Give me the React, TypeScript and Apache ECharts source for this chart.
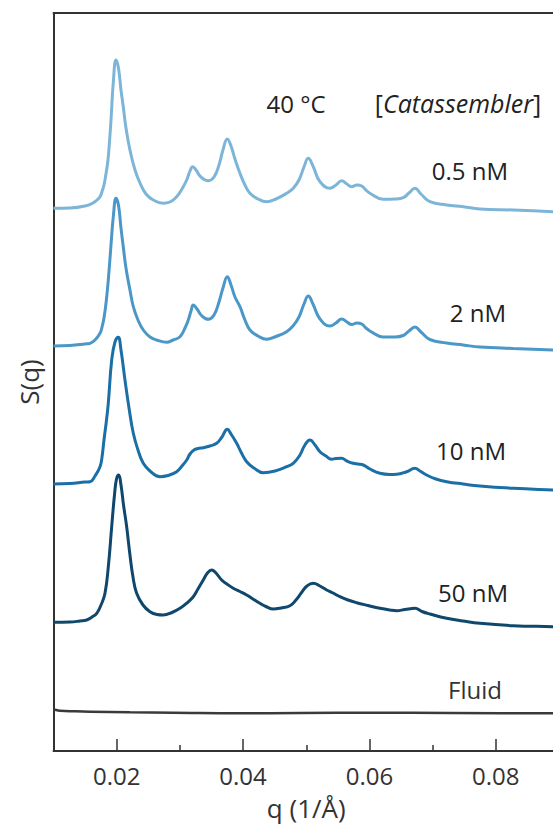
import React, { useEffect, useRef } from "react";
import * as echarts from "echarts";

// q (1/Å) and S(q) (offset, arbitrary units) for each concentration
const q05 = [0.01, 0.01261, 0.01498, 0.01625, 0.0168, 0.01736, 0.01768, 0.01799, 0.0183, 0.01862, 0.01894, 0.0191, 0.01949, 0.01989, 0.02028, 0.02068, 0.02104, 0.02147, 0.0221, 0.0229, 0.02369, 0.02464, 0.02579, 0.02737, 0.02843, 0.02949, 0.03033, 0.03108, 0.0316, 0.03203, 0.03255, 0.03334, 0.03449, 0.0354, 0.03619, 0.03682, 0.0375, 0.03809, 0.03872, 0.03951, 0.0403, 0.04109, 0.04236, 0.04373, 0.04521, 0.0469, 0.04794, 0.04885, 0.04964, 0.05032, 0.05106, 0.05217, 0.05375, 0.0547, 0.0556, 0.05644, 0.05718, 0.05802, 0.05877, 0.05945, 0.06008, 0.06218, 0.06404, 0.06535, 0.06625, 0.0672, 0.06815, 0.06957, 0.07222, 0.07484, 0.07749, 0.08275, 0.089, 0.09];
const s05 = [5.427, 5.43, 5.45, 5.48, 5.505, 5.543, 5.595, 5.66, 5.77, 5.91, 6.16, 6.31, 6.71, 6.91, 6.83, 6.61, 6.443, 6.23, 6.01, 5.81, 5.68, 5.57, 5.51, 5.477, 5.49, 5.543, 5.62, 5.71, 5.8, 5.843, 5.81, 5.74, 5.703, 5.74, 5.86, 6.01, 6.12, 6.05, 5.92, 5.777, 5.66, 5.577, 5.52, 5.493, 5.52, 5.577, 5.627, 5.71, 5.84, 5.927, 5.85, 5.693, 5.627, 5.66, 5.703, 5.67, 5.643, 5.66, 5.65, 5.61, 5.577, 5.517, 5.52, 5.533, 5.58, 5.627, 5.57, 5.493, 5.46, 5.443, 5.42, 5.41, 5.393, 5.39];

const q2 = [0.01, 0.01261, 0.01498, 0.01578, 0.01657, 0.01736, 0.01768, 0.01799, 0.01835, 0.01867, 0.0191, 0.01949, 0.01989, 0.02028, 0.02068, 0.02104, 0.02147, 0.0221, 0.02263, 0.02337, 0.02421, 0.02527, 0.02633, 0.02791, 0.02891, 0.03002, 0.03081, 0.03133, 0.03176, 0.03212, 0.03271, 0.0335, 0.03449, 0.0354, 0.03619, 0.03682, 0.0375, 0.03809, 0.03872, 0.03951, 0.0403, 0.04109, 0.04236, 0.04373, 0.04521, 0.0469, 0.0479, 0.04885, 0.04964, 0.05032, 0.05106, 0.05217, 0.05375, 0.0547, 0.0556, 0.05644, 0.05718, 0.05802, 0.05877, 0.05945, 0.06008, 0.06218, 0.06404, 0.06535, 0.06625, 0.0672, 0.06815, 0.06957, 0.07222, 0.07484, 0.07749, 0.08275, 0.089, 0.09];
const s2 = [4.05, 4.055, 4.07, 4.077, 4.11, 4.177, 4.24, 4.33, 4.5, 4.71, 5.06, 5.36, 5.527, 5.46, 5.23, 5.043, 4.83, 4.61, 4.443, 4.31, 4.21, 4.14, 4.11, 4.087, 4.11, 4.143, 4.23, 4.31, 4.4, 4.46, 4.42, 4.35, 4.317, 4.36, 4.49, 4.63, 4.743, 4.66, 4.54, 4.443, 4.31, 4.21, 4.15, 4.117, 4.145, 4.193, 4.25, 4.34, 4.47, 4.55, 4.47, 4.32, 4.25, 4.28, 4.32, 4.29, 4.265, 4.28, 4.27, 4.23, 4.2, 4.14, 4.14, 4.155, 4.2, 4.24, 4.19, 4.115, 4.08, 4.06, 4.04, 4.025, 4.01, 4.007];

const q10 = [0.01, 0.01261, 0.01498, 0.01578, 0.01657, 0.01736, 0.01768, 0.01799, 0.01835, 0.01867, 0.01921, 0.01973, 0.02025, 0.02068, 0.02131, 0.02195, 0.02263, 0.02337, 0.02421, 0.02527, 0.02685, 0.02812, 0.02949, 0.03033, 0.03108, 0.0316, 0.03223, 0.03286, 0.0337, 0.03476, 0.03582, 0.03666, 0.0375, 0.03809, 0.03899, 0.03967, 0.04057, 0.04173, 0.0432, 0.04505, 0.0469, 0.04794, 0.049, 0.04979, 0.05059, 0.05138, 0.05217, 0.05312, 0.05402, 0.0547, 0.0556, 0.05644, 0.05744, 0.05818, 0.05902, 0.06008, 0.06166, 0.06324, 0.0643, 0.06589, 0.0672, 0.06799, 0.06905, 0.07052, 0.07222, 0.0748, 0.07749, 0.08275, 0.089, 0.09];
const s10 = [2.67, 2.675, 2.69, 2.693, 2.75, 2.843, 2.94, 3.11, 3.29, 3.477, 3.91, 4.09, 4.137, 4.01, 3.71, 3.43, 3.177, 3.01, 2.877, 2.8, 2.743, 2.755, 2.793, 2.85, 2.91, 2.97, 3.01, 3.025, 3.033, 3.05, 3.077, 3.14, 3.217, 3.17, 3.077, 2.99, 2.893, 2.83, 2.783, 2.8, 2.843, 2.877, 2.96, 3.06, 3.11, 3.06, 2.993, 2.95, 2.917, 2.925, 2.927, 2.9, 2.877, 2.87, 2.86, 2.82, 2.777, 2.765, 2.767, 2.793, 2.827, 2.8, 2.76, 2.72, 2.693, 2.67, 2.65, 2.627, 2.61, 2.608];

const q50 = [0.01, 0.01261, 0.01419, 0.01525, 0.01609, 0.01684, 0.01752, 0.01815, 0.0187, 0.01921, 0.01965, 0.01997, 0.02032, 0.02068, 0.02108, 0.02158, 0.0221, 0.02258, 0.02316, 0.02416, 0.02527, 0.02638, 0.02737, 0.02875, 0.03002, 0.03112, 0.03212, 0.03286, 0.0337, 0.03437, 0.03503, 0.03571, 0.03661, 0.03745, 0.03845, 0.03951, 0.04057, 0.04157, 0.04267, 0.04362, 0.04478, 0.046, 0.04742, 0.04837, 0.04932, 0.05011, 0.05111, 0.05217, 0.05323, 0.05423, 0.05533, 0.0566, 0.05797, 0.05976, 0.06166, 0.06324, 0.0643, 0.06562, 0.0672, 0.06831, 0.06957, 0.07222, 0.0748, 0.07749, 0.08275, 0.089, 0.09];
const s50 = [1.287, 1.29, 1.3, 1.31, 1.34, 1.377, 1.46, 1.577, 1.86, 2.243, 2.56, 2.72, 2.76, 2.66, 2.46, 2.243, 1.96, 1.74, 1.577, 1.46, 1.393, 1.365, 1.36, 1.385, 1.427, 1.48, 1.543, 1.62, 1.71, 1.78, 1.81, 1.78, 1.71, 1.67, 1.627, 1.595, 1.56, 1.52, 1.477, 1.445, 1.42, 1.43, 1.453, 1.51, 1.59, 1.65, 1.677, 1.65, 1.61, 1.58, 1.543, 1.51, 1.483, 1.455, 1.427, 1.41, 1.403, 1.415, 1.427, 1.395, 1.37, 1.327, 1.3, 1.277, 1.253, 1.243, 1.24];

const qFluid = [0.01, 0.0104, 0.01103, 0.0134, 0.01578, 0.0221, 0.02891, 0.03951, 0.049, 0.06055, 0.07274, 0.089, 0.09];
const sFluid = [0.42, 0.41, 0.403, 0.397, 0.393, 0.387, 0.383, 0.377, 0.38, 0.383, 0.38, 0.377, 0.377];

const seriesNames = ["0.5 nM", "2 nM", "10 nM", "50 nM", "Fluid"];
const seriesColors = ["#7db5d8", "#4b97c7", "#1b6fa7", "#0f476d", "#3a3a3a"];
const majorTicks = [0.02, 0.04, 0.06, 0.08];
const minorTicks = [0.03, 0.05, 0.07];

const FONT = "'Open Sans', 'Noto Sans', sans-serif";

function zip(q: number[], s: number[]) {
  return q.map((v, i) => [v, s[i]]);
}

export default function App() {
  const ref = useRef<HTMLDivElement>(null);
  useEffect(() => {
    if (!ref.current) return;
    const chart = echarts.init(ref.current, undefined, { renderer: "svg" });
    const datasets = [zip(q05, s05), zip(q2, s2), zip(q10, s10), zip(q50, s50), zip(qFluid, sFluid)];
    const axisColor = "#333";
    chart.setOption({
      animation: false,
      backgroundColor: "#fff",
      grid: { left: 53.5, right: 21, top: 13, bottom: 76 },
      xAxis: [
        {
          type: "value",
          min: 0.01,
          max: 0.09,
          position: "bottom",
          axisLine: { show: true, onZero: false, lineStyle: { color: axisColor, width: 2 } },
          axisTick: { show: true, inside: true, length: 12, customValues: majorTicks, lineStyle: { color: axisColor, width: 1.5 } },
          axisLabel: {
            customValues: majorTicks,
            formatter: (v: number) => v.toFixed(2),
            fontSize: 24,
            color: "#333",
            margin: 12,
            fontFamily: FONT,
          },
          splitLine: { show: false },
          name: "q (1/Å)",
          nameLocation: "middle",
          nameGap: 44,
          nameTextStyle: { fontSize: 26, color: "#333", fontFamily: FONT },
        },
        {
          type: "value",
          min: 0.01,
          max: 0.09,
          position: "bottom",
          axisLine: { show: false },
          axisTick: { show: true, inside: true, length: 6, customValues: minorTicks, lineStyle: { color: axisColor, width: 1.5 } },
          axisLabel: { show: false },
          splitLine: { show: false },
        },
        {
          type: "value",
          min: 0.01,
          max: 0.09,
          position: "top",
          axisLine: { show: true, onZero: false, lineStyle: { color: axisColor, width: 2 } },
          axisTick: { show: false },
          axisLabel: { show: false },
          splitLine: { show: false },
        },
      ],
      yAxis: {
        type: "value",
        min: 0,
        max: 7.38,
        axisLine: { show: true, onZero: false, lineStyle: { color: axisColor, width: 2 } },
        axisTick: { show: false },
        axisLabel: { show: false },
        splitLine: { show: false },
        name: "S(q)",
        nameLocation: "middle",
        nameGap: 12,
        nameTextStyle: { fontSize: 26, color: "#333", fontFamily: FONT },
      },
      series: datasets.map((d, i) => ({
        name: seriesNames[i],
        type: "line",
        xAxisIndex: 0,
        data: d,
        showSymbol: false,
        smooth: 0.45,
        lineStyle: { color: seriesColors[i], width: i === 4 ? 2.5 : 3 },
        itemStyle: { color: seriesColors[i] },
        z: 3,
      })),
      graphic: [
        { type: "text", x: 296, y: 103, style: { text: "40 °C", align: "center", verticalAlign: "middle", fontSize: 24, fontFamily: FONT, fill: "#222" } },
        {
          type: "text",
          x: 458,
          y: 103,
          style: {
            text: "[{i|Catassembler}]",
            align: "center",
            verticalAlign: "middle",
            fontSize: 25,
            fontFamily: FONT,
            fill: "#222",
            rich: { i: { fontStyle: "italic", fontSize: 25, fontFamily: FONT, fill: "#222" } },
          },
        },
        { type: "text", x: 508, y: 170, style: { text: "0.5 nM", align: "right", verticalAlign: "middle", fontSize: 24, fontFamily: FONT, fill: "#222" } },
        { type: "text", x: 506, y: 312, style: { text: "2 nM", align: "right", verticalAlign: "middle", fontSize: 24, fontFamily: FONT, fill: "#222" } },
        { type: "text", x: 506, y: 450, style: { text: "10 nM", align: "right", verticalAlign: "middle", fontSize: 24, fontFamily: FONT, fill: "#222" } },
        { type: "text", x: 508, y: 592, style: { text: "50 nM", align: "right", verticalAlign: "middle", fontSize: 24, fontFamily: FONT, fill: "#222" } },
        { type: "text", x: 502, y: 689, style: { text: "Fluid", align: "right", verticalAlign: "middle", fontSize: 24, fontFamily: FONT, fill: "#333" } },
      ],
    });
    return () => chart.dispose();
  }, []);
  return (
    <div style={{ position: "absolute", left: 0, top: 0, width: 553, height: 827, overflow: "hidden", background: "#fff" }}>
      <div ref={ref} style={{ width: 580, height: 827 }} />
    </div>
  );
}
